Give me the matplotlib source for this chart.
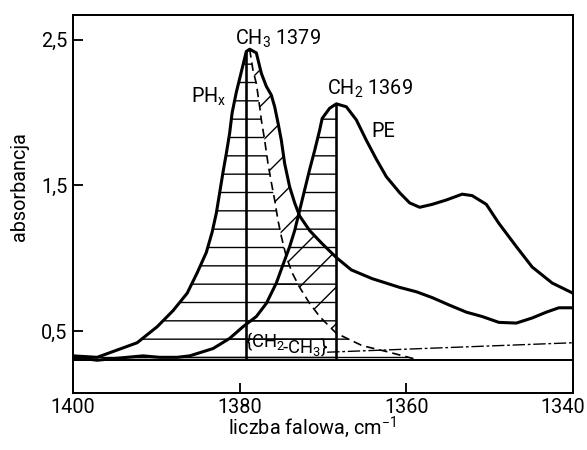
import numpy as np
import matplotlib
matplotlib.use('Agg')
import matplotlib.pyplot as plt
from matplotlib.patches import Rectangle
from matplotlib.transforms import ScaledTranslation

# widmo PHx (liczba falowa, absorbancja)
phx_x = [1400.0, 1397.1, 1394.7, 1392.3, 1389.9, 1388.0, 1386.3, 1385.1, 1384.0,
         1383.3, 1382.8, 1382.4, 1382.0, 1381.6, 1381.2, 1380.9, 1380.4, 1379.8,
         1379.2, 1378.8, 1378.0, 1377.4, 1376.8, 1376.2, 1375.8, 1375.4, 1375.0,
         1374.6, 1374.0, 1373.4, 1372.8, 1371.6, 1370.1, 1368.4, 1366.6, 1364.1,
         1360.8, 1358.8, 1356.9, 1354.9, 1352.8, 1350.9, 1348.9, 1346.8, 1344.9,
         1343.2, 1341.7, 1340.0]
phx_y = [0.33, 0.32, 0.37, 0.42, 0.53, 0.64, 0.76, 0.90, 1.04,
         1.18, 1.31, 1.45, 1.59, 1.72, 1.86, 2.00, 2.14, 2.28,
         2.42, 2.435, 2.41, 2.27, 2.18, 2.12, 2.04, 1.93, 1.81,
         1.65, 1.49, 1.38, 1.29, 1.19, 1.10, 1.005, 0.92, 0.86,
         0.80, 0.77, 0.73, 0.68, 0.63, 0.60, 0.56, 0.555, 0.59,
         0.63, 0.66, 0.66]

# widmo PE
pe_x = [1400.0, 1397.1, 1393.5, 1391.6, 1389.6, 1387.5, 1386.0, 1383.2, 1381.2,
        1379.6, 1378.0, 1376.8, 1375.6, 1374.9, 1374.0, 1373.4, 1372.8, 1372.2,
        1371.6, 1371.0, 1370.4, 1370.1, 1369.2, 1368.4, 1367.2, 1366.0, 1364.8,
        1363.6, 1362.4, 1360.8, 1359.6, 1358.4, 1356.9, 1355.2, 1353.3, 1352.1,
        1350.4, 1348.9, 1346.8, 1344.9, 1342.5, 1340.0]
pe_y = [0.32, 0.30, 0.32, 0.33, 0.32, 0.32, 0.33, 0.38, 0.45,
        0.53, 0.60, 0.69, 0.83, 0.94, 1.08, 1.19, 1.33, 1.47,
        1.61, 1.74, 1.88, 1.96, 2.03, 2.06, 2.04, 1.95, 1.81,
        1.68, 1.56, 1.45, 1.38, 1.35, 1.37, 1.40, 1.44, 1.43,
        1.37, 1.24, 1.08, 0.94, 0.83, 0.76]

# pasmo CH3 w PHx (linia przerywana)
ch3_x = [1378.8, 1378.4, 1378.0, 1377.6, 1377.4, 1377.0, 1376.6, 1376.2, 1375.8,
         1375.4, 1375.0, 1374.4, 1373.7, 1372.8, 1371.6, 1370.4, 1369.2, 1368.4,
         1365.3, 1362.4, 1358.4]
ch3_y = [2.435, 2.29, 2.20, 2.04, 1.95, 1.81, 1.65, 1.52, 1.40,
         1.26, 1.15, 1.01, 0.90, 0.80, 0.69, 0.60, 0.53, 0.485,
         0.40, 0.36, 0.30]

# linia tla PE
tan_x = [1369.5, 1340.0]
tan_y = [0.355, 0.42]

baseline = 0.30
band_x = [1379.2, 1368.4]
band_top = [2.42, 2.06]

xticks = [1400, 1380, 1360, 1340]
yticks = [0.5, 1.5, 2.5]
yticklabels = ['0,5', '1,5', '2,5']

fam, fs = 'Roboto', 13
plt.rcParams['font.family'] = [fam, 'DejaVu Sans']
plt.rcParams['mathtext.fontset'] = 'custom'
plt.rcParams['mathtext.rm'] = fam
plt.rcParams['mathtext.it'] = fam
plt.rcParams['hatch.linewidth'] = 0.9
plt.rcParams['hatch.color'] = 'black'

dpi = 110
fig = plt.figure(figsize=(587 / dpi, 450 / dpi), dpi=dpi)
ax = fig.add_axes([73 / 587, 1 - 393 / 450, 500 / 587, 378 / 450])

phx_x = np.array(phx_x); phx_y = np.array(phx_y)
pe_x = np.array(pe_x); pe_y = np.array(pe_y)
ch3_x = np.array(ch3_x); ch3_y = np.array(ch3_y)

# kreskowanie poziome: pasmo CH3 (PHx) i lewa czesc PE
m = phx_x > ch3_x[0]
xa = np.concatenate([phx_x[m], ch3_x])
ya = np.concatenate([phx_y[m], ch3_y])
ax.fill_between(xa, baseline, ya, facecolor='none', edgecolor='black', hatch='-', lw=0)
m = pe_x >= band_x[1]
ax.fill_between(pe_x[m], baseline, pe_y[m], facecolor='none', edgecolor='black', hatch='-', lw=0)

# kreskowanie ukosne: miedzy pasmem CH3 a PHx
mp = (phx_x <= ch3_x[0]) & (phx_x >= 1364)
mc = ch3_x >= 1364
poly_x = np.concatenate([phx_x[mp], ch3_x[mc][::-1]])
poly_y = np.concatenate([phx_y[mp], ch3_y[mc][::-1]])
diag = ax.fill(poly_x, poly_y, facecolor='none', edgecolor='black', hatch='/', lw=0)[0]
diag.set_clip_path(Rectangle((band_x[1], 0), 15, 3, transform=ax.transData))

# linie
ax.plot(phx_x, phx_y, color='black', lw=2.0, solid_joinstyle='round')
ax.plot(pe_x, pe_y, color='black', lw=2.0, solid_joinstyle='round')
ax.plot(ch3_x, ch3_y, color='black', lw=1.1, ls=(0, (5, 3)))
ax.plot(tan_x, tan_y, color='black', lw=0.9, ls=(0, (9, 2, 2, 2)))
ax.axhline(baseline, color='black', lw=1.3)
ax.vlines(band_x, baseline, band_top, color='black', lw=1.7)

# opisy
ax.text(1380.6, 2.465, 'CH$_3$ 1379', fontsize=fs)
ax.text(1385.8, 2.067, 'PH$_x$', fontsize=fs)
ax.text(1369.5, 2.122, 'CH$_2$ 1369', fontsize=fs)
ax.text(1364.2, 1.833, 'PE', fontsize=fs)
ax.text(1379.3, 0.39, '{CH$_2$', fontsize=12)
ax.text(1374.9, 0.355, '-CH$_3$}', fontsize=12)

ax.set_xlim(1400, 1340)
ax.set_ylim(0.075, 2.67)
ax.set_xticks(xticks)
ax.set_yticks(yticks)
ax.set_yticklabels(yticklabels)
ax.tick_params(direction='in', length=6.5, width=1.2, labelsize=fs)
ax.tick_params(axis='x', pad=3)
ax.tick_params(axis='y', pad=3.5)
for s in ax.spines.values():
    s.set_linewidth(1.3)

# ostatni podpis osi x przesuniety w lewo, jak w oryginale
last = ax.get_xticklabels()[-1]
last.set_horizontalalignment('right')
last.set_transform(last.get_transform() + ScaledTranslation(12 / dpi, 0, fig.dpi_scale_trans))

ax.set_xlabel('liczba falowa, cm$^{-1}$', fontsize=fs)
ax.set_ylabel('absorbancja', fontsize=fs)
ax.xaxis.set_label_coords(0.478, -0.058)
ax.yaxis.set_label_coords(-0.088, 0.545)

fig.savefig('out.png', dpi=dpi)
